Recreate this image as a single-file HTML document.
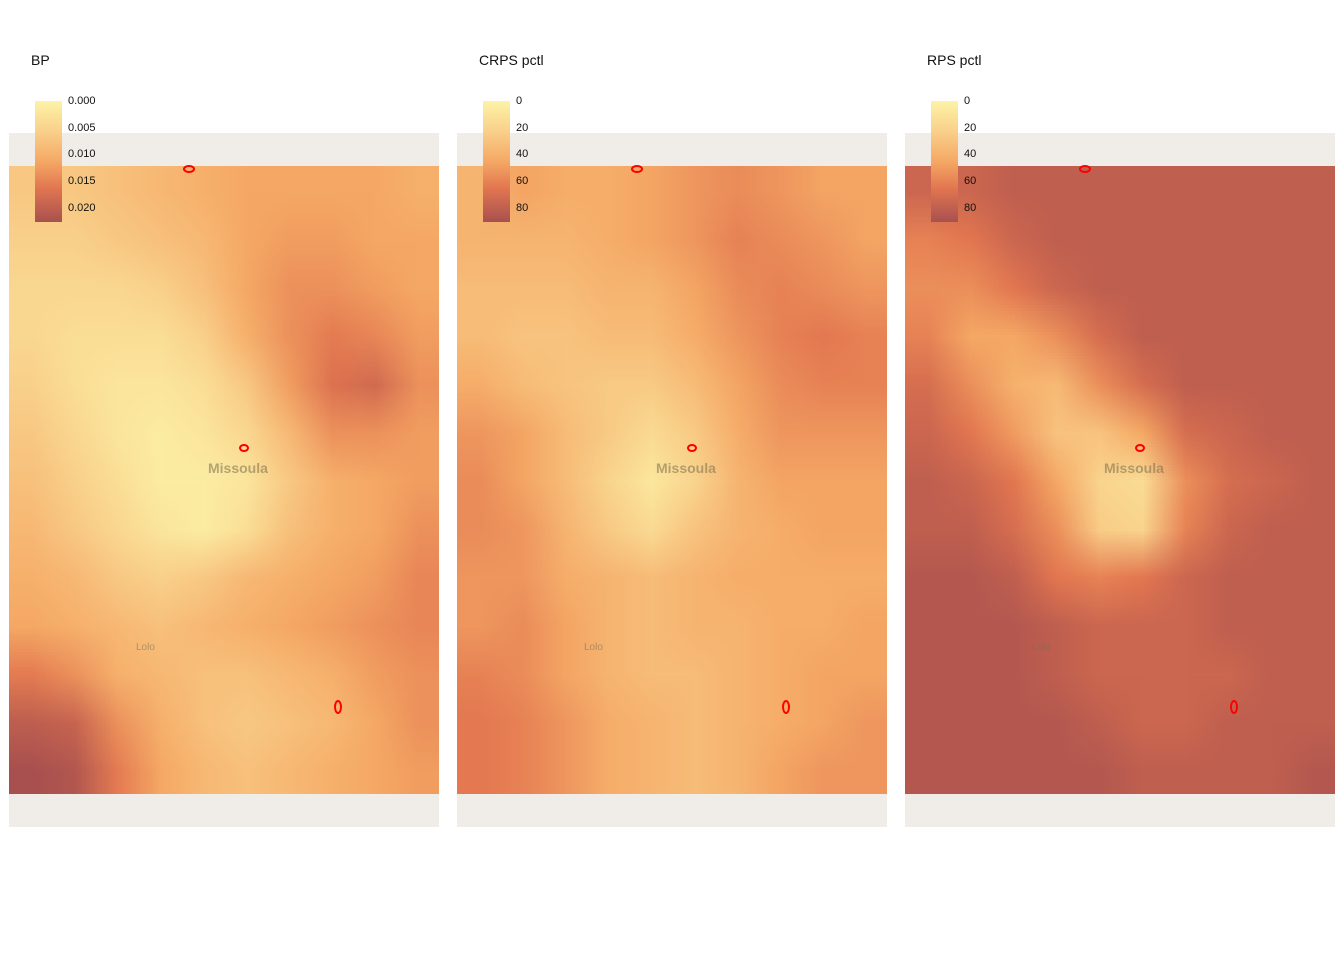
<!DOCTYPE html>
<html><head><meta charset="utf-8">
<style>
body{margin:0;background:#fff;width:1344px;height:960px;position:relative;font-family:"Liberation Sans",sans-serif;overflow:hidden}
.panel{position:absolute;top:0;width:440px;height:960px}
.title{position:absolute;top:52px;font-size:14px;color:#111}
.base{position:absolute;left:0;top:133px;width:430px;height:694px;background:#f0ede8}
canvas{position:absolute;left:0;top:166px;width:430px;height:628px}
.cbar{position:absolute;left:26px;top:101px;width:27px;height:121px}
.lab{position:absolute;left:59px;font-size:11px;color:#111}
.city{position:absolute;font-size:14px;color:rgba(120,110,80,0.55);font-weight:bold}
.red{position:absolute;border:2px solid #f00;border-radius:50%}
</style></head><body>
<script>
const bpVals=[
[6,6,7,8,9,10,10,10,10,9],[5,5,6,7,8,10,11,11,10,10],[4,4,4,5,7,10,12,12,11,10],
[4,3,3,3,5,9,12,14,13,11],[5,3,2,2,3,6,11,15,16,12],[6,4,2,1,2,4,8,12,12,11],
[7,5,3,1,1,2,6,9,10,11],[8,6,4,2,1,3,7,9,10,12],[9,8,6,5,6,8,9,10,11,13],
[10,9,8,7,8,9,10,11,12,13],[14,12,9,8,7,7,8,9,11,12],[18,17,12,9,7,6,7,8,10,12],
[20,19,14,10,8,7,8,9,10,11]];
const crpsVals=[
[38,46,42,42,46,52,56,52,46,46],[38,38,38,42,46,52,60,56,52,46],[34,34,34,38,38,46,56,60,56,52],
[34,30,30,34,34,42,52,60,64,60],[42,34,30,26,26,34,46,56,60,60],[52,46,34,26,16,26,42,52,52,52],
[56,46,34,20,8,20,38,46,46,46],[56,52,38,26,16,30,38,42,46,46],[52,52,42,38,34,38,42,42,42,42],
[52,56,46,38,34,38,38,42,42,46],[60,56,46,38,34,34,38,42,46,46],[64,60,52,42,38,34,38,42,46,52],
[64,60,52,42,38,34,38,46,52,52]];
const rpsVals=[
[75,75,80,80,80,80,80,80,80,80],[60,65,75,80,80,80,80,80,80,80],[55,55,65,75,80,80,80,80,80,80],
[60,45,45,55,70,80,80,80,80,80],[70,55,40,35,55,70,80,80,80,80],[75,65,50,30,30,45,70,75,80,80],
[80,75,65,45,20,15,55,70,75,80],[80,80,70,55,25,20,60,75,80,80],[85,85,80,65,60,65,75,80,80,80],
[85,85,85,80,75,75,75,80,80,80],[85,85,85,80,75,75,75,75,80,80],[85,85,85,85,80,75,75,80,80,80],
[85,85,85,85,85,80,80,80,80,85]];
const bpTicks=["0.000","0.005","0.010","0.015","0.020"];
const pctTicks=["0","20","40","60","80"];
const stops=[[0,[253,243,168]],[0.25,[249,208,138]],[0.5,[245,168,101]],[0.72,[226,118,80]],[1,[168,80,79]]];
function col(t){t=Math.max(0,Math.min(1,t));for(let i=1;i<stops.length;i++){if(t<=stops[i][0]){const a=stops[i-1],b=stops[i];const f=(t-a[0])/(b[0]-a[0]);return a[1].map((v,k)=>Math.round(v+(b[1][k]-v)*f));}}return stops[stops.length-1][1];}
const panels=[{x:9,title:"BP",vals:bpVals,max:20,ticks:bpTicks,name:"bp"},{x:457,title:"CRPS pctl",vals:crpsVals,max:90,ticks:pctTicks,name:"crps"},{x:905,title:"RPS pctl",vals:rpsVals,max:90,ticks:pctTicks,name:"rps"}];
panels.forEach(p=>{
 const d=document.createElement('div');d.className='panel';d.style.left=p.x+'px';
 
 
 const t=document.createElement('div');t.className='title';t.style.left='22px';t.style.top='52px';t.textContent=p.title;
 
 
 d.appendChild(t);
 const b=document.createElement('div');b.className='base';
 
 
 d.appendChild(b);
 const rows=p.vals.length,cols=p.vals[0].length;
 const c=document.createElement('canvas');c.width=cols;c.height=rows;
 
 
 const ctx=c.getContext('2d');const img=ctx.createImageData(cols,rows);
 p.vals.forEach((r,ri)=>r.forEach((v,ci)=>{const cc=col(v/p.max);const o=(ri*cols+ci)*4;img.data[o]=cc[0];img.data[o+1]=cc[1];img.data[o+2]=cc[2];img.data[o+3]=255;}));
 ctx.putImageData(img,0,0);
 d.appendChild(c);
 const cb=document.createElement('div');cb.className='cbar';
 const gs=stops.map(s=>`rgb(${s[1].join(',')}) ${s[0]*100}%`).join(',');
 cb.style.background=`linear-gradient(to bottom,${gs})`;
 
 
 d.appendChild(cb);
 p.ticks.forEach((tk,i)=>{const l=document.createElement('div');l.className='lab';l.style.top=(95+i*26.7)+'px';l.textContent=tk;
  
  
  d.appendChild(l);});
 const cy=document.createElement('div');cy.className='city';cy.style.left='199px';cy.style.top='460px';cy.textContent='Missoula';
 
 
 d.appendChild(cy);
 const lo=document.createElement('div');lo.className='city';lo.style.cssText+='left:127px;top:642px;font-size:10px;font-weight:normal';lo.textContent='Lolo';
 
 
 d.appendChild(lo);
 [[174,165,8,4],[230,444,6,4],[325,700,4,10]].forEach((m,i)=>{const r=document.createElement('div');r.className='red';r.style.left=m[0]+'px';r.style.top=m[1]+'px';r.style.width=m[2]+'px';r.style.height=m[3]+'px';
  
  
  d.appendChild(r);});
 document.body.appendChild(d);
});
</script>
</body></html>
